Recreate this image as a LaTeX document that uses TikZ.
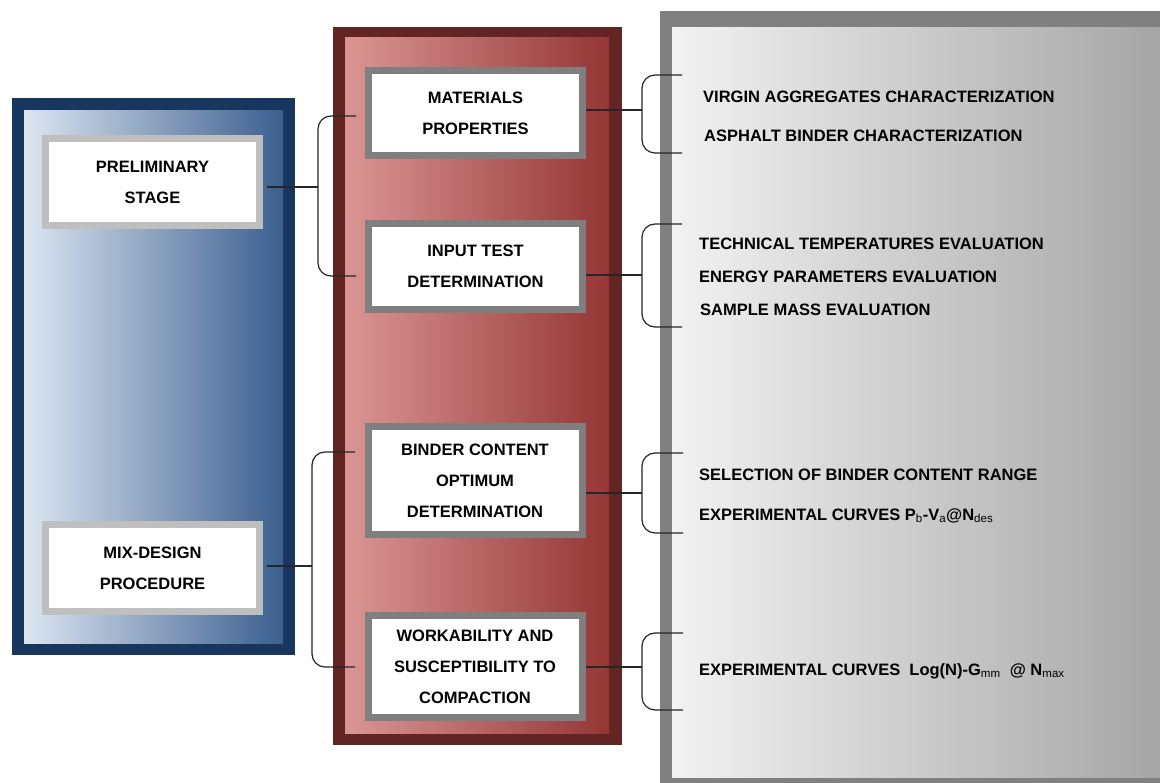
\documentclass[tikz,border=0pt]{standalone}
\usepackage{fontspec}
\setmainfont{Liberation Sans}
\definecolor{blueout}{HTML}{17375E}
\definecolor{bluelight}{HTML}{DCE6F1}
\definecolor{bluedark}{HTML}{3B5F8F}
\definecolor{redout}{HTML}{632523}
\definecolor{redlight}{HTML}{DA9694}
\definecolor{reddark}{HTML}{943634}
\definecolor{grayout}{HTML}{808080}
\definecolor{graylight}{HTML}{F2F2F2}
\definecolor{graydark}{HTML}{A4A4A4}
\definecolor{lightborder}{HTML}{BFBFBF}
\definecolor{midborder}{HTML}{7F7F7F}
\definecolor{conn}{HTML}{262626}
\tikzset{
  boxtxt/.style={font=\fontsize{16.5}{31}\selectfont\bfseries, align=center, inner sep=0pt},
  leftbox/.style={boxtxt, draw=lightborder, line width=7pt, fill=white, minimum width=214pt, minimum height=87pt},
  redbox/.style={boxtxt, draw=midborder, line width=7pt, fill=white, minimum width=214pt},
  item/.style={font=\fontsize{16.5}{20}\selectfont\bfseries, anchor=base west, inner sep=0pt},
  link/.style={draw=conn, line width=1.2pt},
  brace/.style={draw=conn, line width=1.2pt, rounded corners=13pt}
}
\begin{document}
\begin{tikzpicture}[x=1pt,y=-1pt]
\clip (0,0) rectangle (1160,783);
\fill[white] (0,0) rectangle (1160,783);
% panels
\fill[blueout] (12,98) rectangle (295,655);
\shade[left color=bluelight, right color=bluedark] (24,111) rectangle (283,643);
\fill[redout] (333,27) rectangle (622,745);
\shade[left color=redlight, right color=reddark] (345,38) rectangle (609,733);
\fill[grayout] (660,11) rectangle (1170,790);
\shade[left color=graylight, right color=graydark] (672,28) rectangle (1170,777);
% left boxes
\node[leftbox] (prelim) at (152.5,182) {PRELIMINARY\\STAGE};
\node[leftbox] (mix) at (152.5,568) {MIX-DESIGN\\PROCEDURE};
% red boxes
\node[redbox, minimum height=85pt] (mat) at (475.5,113) {MATERIALS\\PROPERTIES};
\node[redbox, minimum height=86pt] (inp) at (475.5,266.5) {INPUT TEST\\DETERMINATION};
\node[redbox, minimum height=108pt] (bind) at (475,480.5) {BINDER CONTENT\\OPTIMUM\\DETERMINATION};
\node[redbox, minimum height=102pt] (work) at (475,666.5) {WORKABILITY AND\\SUSCEPTIBILITY TO\\COMPACTION};
% bracket coordinates
\coordinate (lb1) at (318,187);
\coordinate (lb2) at (312,566);
\coordinate (rb1) at (642,110);
\coordinate (rb2) at (642,275);
\coordinate (rb3) at (642,493);
\coordinate (rb4) at (642,667);
% left brackets
\path[brace] (356,116) -- (318,116) -- (318,276) -- (356,276);
\path[brace] (355,452) -- (312,452) -- (312,667) -- (355,667);
\path[link] ([xshift=4pt]prelim.east |- lb1) -- (lb1);
\path[link] ([xshift=4pt]mix.east |- lb2) -- (lb2);
% right brackets
\path[brace] (682,75) -- (642,75) -- (642,153) -- (682,153);
\path[brace] (682,224) -- (642,224) -- (642,327) -- (682,327);
\path[brace] (683,453) -- (642,453) -- (642,533) -- (683,533);
\path[brace] (683,633) -- (642,633) -- (642,710) -- (683,710);
\path[link] (mat.east |- rb1) -- (rb1);
\path[link] (inp.east |- rb2) -- (rb2);
\path[link] (bind.east |- rb3) -- (rb3);
\path[link] (work.east |- rb4) -- (rb4);
% items
\node[item] (t1) at (703,103) {VIRGIN AGGREGATES CHARACTERIZATION};
\node[item] (t2) at (704,142) {ASPHALT BINDER CHARACTERIZATION};
\node[item] (t3) at (699,250) {TECHNICAL TEMPERATURES EVALUATION};
\node[item] (t4) at (699,283) {ENERGY PARAMETERS EVALUATION};
\node[item] (t5) at (700,316) {SAMPLE MASS EVALUATION};
\node[item] (t6) at (699,481) {SELECTION OF BINDER CONTENT RANGE};
\node[item] (t7) at (699,520) {EXPERIMENTAL CURVES P\textsubscript{\mdseries b}-V\textsubscript{\mdseries a}@N\textsubscript{\mdseries des}};
\node[item] (t8) at (699,675) {EXPERIMENTAL CURVES\ \ Log(N)-G\textsubscript{\mdseries mm}\ \ @ N\textsubscript{\mdseries max}};
\end{tikzpicture}
\end{document}
